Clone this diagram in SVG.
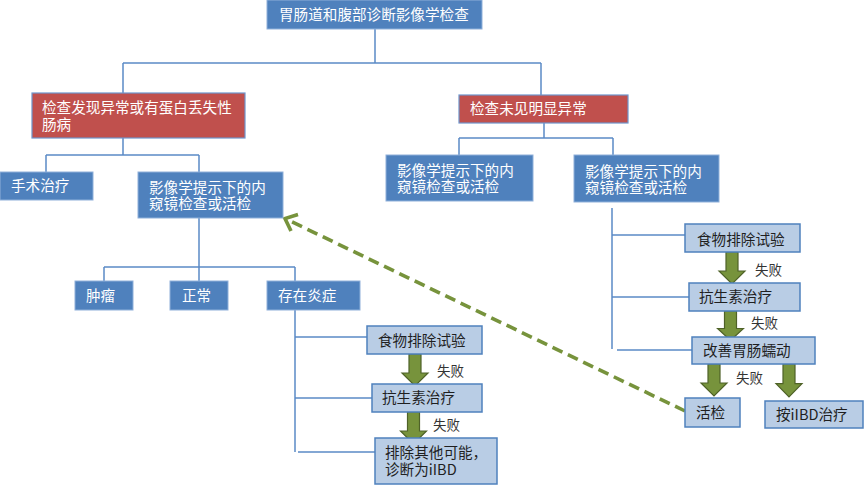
<svg xmlns="http://www.w3.org/2000/svg" width="864" height="488" viewBox="0 0 864 488">
<style>
text{font-family:"Noto Sans CJK SC","Noto Sans",sans-serif;font-size:14.6px}
.b{fill:#4F81BD;stroke:#8FB0DA;stroke-width:1}
.r{fill:#C0504D;stroke:#6E95CC;stroke-width:1.2}
.l{fill:#B9CDE5;stroke:#4F81BD;stroke-width:1.5}
.w{fill:#FFFFFF}
.d{fill:#1F1F1F}
.f{fill:#333333;font-size:13.5px}
.c{fill:none;stroke:#5B8AC6;stroke-width:1.5}
.g{fill:#77933C;stroke:#4F6228;stroke-width:1.2}
.dg{fill:none;stroke:#77933C;stroke-width:3.6}
</style>
<defs>
<path id="ba" d="M-6,0 H6 V19 H13 L0,32 L-13,19 H-6 Z"/>
</defs>
<rect width="864" height="488" fill="#FFFFFF"/>
<g id="connectors">
<path class="c" d="M375,29 V63 M123,63 H541 M123,63 V93 M541,63 V95"/>
<path class="c" d="M123,138 V155 M46,155 H199 M46,155 V172 M199,155 V172"/>
<path class="c" d="M544,123 V138 M459,138 H613 M459,138 V155 M613,138 V155"/>
<path class="c" d="M199,218 V267 M104,267 H295 M104,267 V281 M199,267 V281 M295,267 V281"/>
<path class="c" d="M295,310 V452 M295,337 H367 M295,398 H372 M298,452 H375"/>
<path class="c" d="M612,208 V349 M612,235 H685 M612,297 H689 M617,350 H692"/>
<g id="block-arrows">
<use href="#ba" class="g" transform="translate(415,354)"/>
<use href="#ba" class="g" transform="translate(413.5,412)"/>
<use href="#ba" class="g" transform="translate(732,252)"/>
<use href="#ba" class="g" transform="translate(730.5,311) scale(1,0.92)"/>
<use href="#ba" class="g" transform="translate(714,364)"/>
<use href="#ba" class="g" transform="translate(789,364) scale(1,1.03)"/>
</g>
<line class="dg" x1="685" y1="411" x2="288" y2="220" stroke-dasharray="11,6"/>
<path class="dg" d="M298,214.5 L285,218.5 L291,231" stroke-linejoin="miter"/>
<text class="f" x="437" y="376">失败</text>
<text class="f" x="433" y="430">失败</text>
<text class="f" x="755" y="275">失败</text>
<text class="f" x="751" y="328">失败</text>
<text class="f" x="736" y="383">失败</text>
</g>
<g id="n-top"><rect class="b" x="267" y="0" width="215" height="29"/><text class="w" x="279" y="20">胃肠道和腹部诊断影像学检查</text></g>
<g id="n-abnormal"><rect class="r" x="32" y="93" width="213" height="45"/><text class="w" x="42" y="113">检查发现异常或有蛋白丢失性<tspan x="42" dy="17">肠病</tspan></text></g>
<g id="n-normal"><rect class="r" x="459" y="95" width="169" height="28"/><text class="w" x="470" y="114">检查未见明显异常</text></g>
<g id="n-surgery"><rect class="b" x="0" y="172" width="93" height="28"/><text class="w" x="11" y="191">手术治疗</text></g>
<g id="n-endo-left"><rect class="b" x="138" y="172" width="145" height="46"/><text class="w" x="149" y="193">影像学提示下的内<tspan x="149" dy="16">窥镜检查或活检</tspan></text></g>
<g id="n-endo-mid"><rect class="b" x="386" y="155" width="147" height="46"/><text class="w" x="397" y="176">影像学提示下的内<tspan x="397" dy="16">窥镜检查或活检</tspan></text></g>
<g id="n-endo-right"><rect class="b" x="574" y="155" width="145" height="47"/><text class="w" x="585" y="177">影像学提示下的内<tspan x="585" dy="16">窥镜检查或活检</tspan></text></g>
<g id="n-tumor"><rect class="b" x="75" y="281" width="58" height="29"/><text class="w" x="86" y="301">肿瘤</text></g>
<g id="n-ok"><rect class="b" x="170" y="281" width="58" height="29"/><text class="w" x="182" y="301">正常</text></g>
<g id="n-inflam"><rect class="b" x="267" y="281" width="93" height="29"/><text class="w" x="278" y="301">存在炎症</text></g>
<g id="n-diet-left"><rect class="l" x="367" y="326" width="115" height="28"/><text class="d" x="378" y="346">食物排除试验</text></g>
<g id="n-abx-left"><rect class="l" x="372" y="384" width="110" height="28"/><text class="d" x="382" y="403">抗生素治疗</text></g>
<g id="n-exclude"><rect class="l" x="375" y="438" width="122" height="46"/><text class="d" x="385" y="458">排除其他可能，<tspan x="385" dy="17">诊断为iIBD</tspan></text></g>
<g id="n-diet-right"><rect class="l" x="685" y="224" width="115" height="28"/><text class="d" x="697" y="245">食物排除试验</text></g>
<g id="n-abx-right"><rect class="l" x="689" y="283" width="111" height="28"/><text class="d" x="699" y="302">抗生素治疗</text></g>
<g id="n-motility"><rect class="l" x="692" y="337" width="123" height="27"/><text class="d" x="703" y="356">改善胃肠蠕动</text></g>
<g id="n-biopsy"><rect class="l" x="685" y="398" width="55" height="29"/><text class="d" x="696" y="418">活检</text></g>
<g id="n-ibd"><rect class="l" x="765" y="401" width="98" height="27"/><text class="d" x="776" y="420">按iIBD治疗</text></g>
</svg>
